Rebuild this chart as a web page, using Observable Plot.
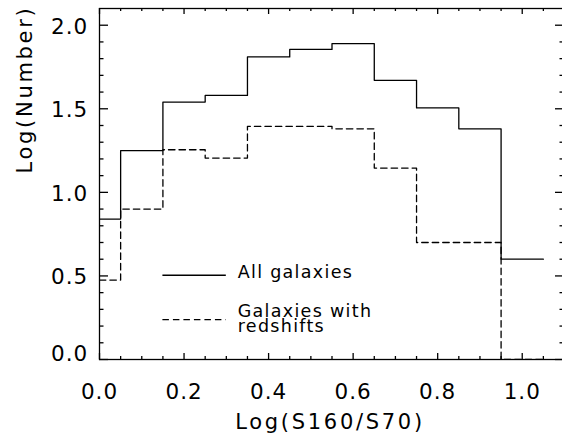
<!DOCTYPE html>
<html><head><meta charset="utf-8">
<script src="https://cdn.jsdelivr.net/npm/d3@7"></script>
<script src="https://cdn.jsdelivr.net/npm/@observablehq/plot@0.6"></script>
<style>
html,body{margin:0;padding:0;background:#fff;overflow:hidden;width:562px;height:434px}
#chart{width:566px;height:434px;overflow:hidden}
#chart svg{display:block;font-family:"DejaVu Sans",sans-serif;max-width:none !important;width:566px;height:434px}
#chart g[aria-label="x-axis tick label"] text,#chart g[aria-label="y-axis tick label"] text{letter-spacing:1px}
#chart g[aria-label="text"][font-size="21"] text{letter-spacing:2.7px}
#chart g[aria-label="text"][font-size="17.5"] text{letter-spacing:1.3px}
</style></head><body><div id="chart"></div><script>
// ---- data ----
const binCenters = [0.0, 0.1, 0.2, 0.3, 0.4, 0.5, 0.6, 0.7, 0.8, 0.9, 1.0];
const allGalaxies = [0.84, 1.25, 1.54, 1.58, 1.81, 1.855, 1.89, 1.67, 1.505, 1.38, 0.60];
const withRedshifts = [0.475, 0.90, 1.255, 1.205, 1.395, 1.395, 1.38, 1.145, 0.70, 0.70, 0.0];
const seriesNames = ["All galaxies", "Galaxies with\nredshifts"];
const xMajorTicks = [0.0, 0.2, 0.4, 0.6, 0.8, 1.0];
const xMinorTicks = [0.05, 0.1, 0.15, 0.25, 0.3, 0.35, 0.45, 0.5, 0.55, 0.65, 0.7, 0.75, 0.85, 0.9, 0.95, 1.05];
const yMajorTicks = [0.0, 0.5, 1.0, 1.5, 2.0];
const yMinorTicks = [0.1, 0.2, 0.3, 0.4, 0.6, 0.7, 0.8, 0.9, 1.1, 1.2, 1.3, 1.4, 1.6, 1.7, 1.8, 1.9];
const xLabel = "Log(S160/S70)";
const yLabel = "Log(Number)";
const binWidth = 0.1;

// ---- layout ----
const W = 566, H = 434, mL = 99, mR = 2, mT = 8, mB = 75;
const fw = W - mL - mR, fh = H - mT - mB;
const legend = {x1: 0.15, x2: 0.30, textX: 0.327, ySolid: 0.504, yDashed: 0.239};

function steps(vals) {
  const pts = vals.map((v, i) => ({x: binCenters[i] - binWidth / 2, y: v}));
  pts.push({x: binCenters[binCenters.length - 1] + binWidth / 2, y: vals[vals.length - 1]});
  return pts;
}
const dash = "6.5,4";
const sw = 1.3;

const chart = Plot.plot({
  width: W, height: H,
  marginLeft: mL, marginRight: mR, marginTop: mT, marginBottom: mB,
  x: {domain: [0, 1.1]},
  y: {domain: [0, 2.1]},
  style: {fontFamily: "DejaVu Sans, sans-serif", color: "black", background: "white", maxWidth: "none"},
  marks: [
    Plot.line(steps(allGalaxies), {x: "x", y: "y", curve: "step-after", stroke: "black", strokeWidth: sw, clip: true}),
    Plot.line(steps(withRedshifts), {x: "x", y: "y", curve: "step-after", stroke: "black", strokeWidth: sw, strokeDasharray: dash, clip: true}),
    // legend
    Plot.ruleY([legend.ySolid], {x1: legend.x1, x2: legend.x2, stroke: "black", strokeWidth: sw}),
    Plot.ruleY([legend.yDashed], {x1: legend.x1, x2: legend.x2, stroke: "black", strokeWidth: sw, strokeDasharray: dash}),
    Plot.text([seriesNames[0]], {x: legend.textX, y: legend.ySolid, text: d => d, textAnchor: "start", lineAnchor: "middle", dy: -2.9, fontSize: 17.5, fill: "black"}),
    Plot.text([seriesNames[1]], {x: legend.textX, y: legend.yDashed, text: d => d, textAnchor: "start", lineAnchor: "middle", lineHeight: 0.86, dy: 0.3, fontSize: 17.5, fill: "black"}),
    // frame
    Plot.frame({stroke: "black", strokeWidth: sw}),
    // ticks (inward)
    Plot.ruleX(xMajorTicks, {x: d => d, insetTop: fh - 6, stroke: "black", strokeWidth: sw}),
    Plot.ruleX(xMinorTicks, {x: d => d, insetTop: fh - 3, stroke: "black", strokeWidth: sw}),
    Plot.ruleX(xMajorTicks, {x: d => d, insetBottom: fh - 6, stroke: "black", strokeWidth: sw}),
    Plot.ruleX(xMinorTicks, {x: d => d, insetBottom: fh - 3, stroke: "black", strokeWidth: sw}),
    Plot.ruleY(yMajorTicks, {y: d => d, insetRight: fw - 9, stroke: "black", strokeWidth: sw}),
    Plot.ruleY(yMinorTicks, {y: d => d, insetRight: fw - 4.5, stroke: "black", strokeWidth: sw}),
    Plot.ruleY(yMajorTicks, {y: d => d, insetLeft: fw - 9, stroke: "black", strokeWidth: sw}),
    Plot.ruleY(yMinorTicks, {y: d => d, insetLeft: fw - 4.5, stroke: "black", strokeWidth: sw}),
    // tick labels
    Plot.axisX({ticks: xMajorTicks, tickSize: 0, tickPadding: 24, tickFormat: d3.format(".1f"), fontSize: 21.5, label: null, fill: "black"}),
    Plot.axisY({ticks: yMajorTicks.filter(d => d > 0), tickSize: 0, tickPadding: 11.3, dy: 1.5, tickFormat: d3.format(".1f"), fontSize: 21.5, label: null, fill: "black"}),
    Plot.axisY({ticks: yMajorTicks.filter(d => d === 0), tickSize: 0, tickPadding: 11.3, dy: -5.1, tickFormat: d3.format(".1f"), fontSize: 21.5, label: null, fill: "black"}),
    // axis titles
    Plot.text([xLabel], {frameAnchor: "bottom", text: d => d, lineAnchor: "bottom", dy: 69, dx: -2, fontSize: 21, fill: "black"}),
    Plot.text([yLabel], {frameAnchor: "left", text: d => d, rotate: -90, lineAnchor: "middle", dx: -74, dy: -10.5, fontSize: 21, fill: "black"})
  ]
});
document.getElementById("chart").appendChild(chart);
</script></body></html>
